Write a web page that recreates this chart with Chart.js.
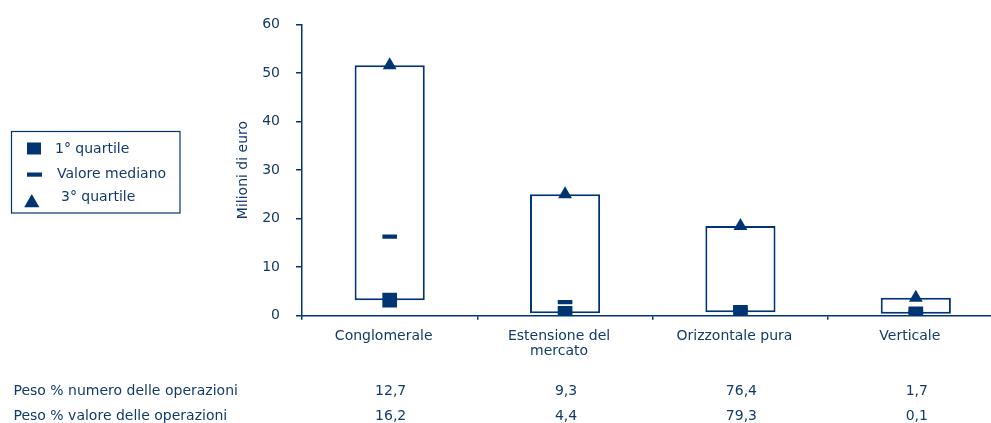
<!DOCTYPE html>
<html>
<head>
<meta charset="utf-8">
<script src="https://cdn.jsdelivr.net/npm/chart.js@4"></script>
<style>
  html, body { margin: 0; padding: 0; background: #ffffff; overflow: hidden; width: 991px; height: 423px; }
  #wrap { position: absolute; left: 0; top: 0; width: 1015px; height: 423px; }
</style>
</head>
<body>
<div id="wrap"><canvas id="c" width="1015" height="423"></canvas></div>
<script>
// ---- data ----
const categories = ['Conglomerale', ['Estensione del', 'mercato'], 'Orizzontale pura', 'Verticale'];
const q1Values = [3.2, 0.5, 0.7, 0.4];
const medianValues = [16.3, 2.8, 1.2, 0.8];
const q3Values = [51.6, 25.0, 18.5, 3.7];
const yTicks = [0, 10, 20, 30, 40, 50, 60];
const rowLabels = ['Peso % numero delle operazioni', 'Peso % valore delle operazioni'];
const pesoNumero = ['12,7', '9,3', '76,4', '1,7'];
const pesoValore = ['16,2', '4,4', '79,3', '0,1'];
const legendLabels = ['1° quartile', 'Valore mediano', '3° quartile'];
const yTitle = 'Milioni di euro';

// ---- style ----
const NAVY = '#003473';
const TEXT = '#133a6c';
const FONT = 'DejaVu Sans';

const boxRanges = q1Values.map((v, i) => [v, q3Values[i]]);

const legendPlugin = {
  id: 'boxLegend',
  afterDraw(chart) {
    const ctx = chart.ctx;
    ctx.save();
    ctx.strokeStyle = NAVY;
    ctx.lineWidth = 1.2;
    ctx.strokeRect(11.5, 131.5, 168.5, 81.5);
    ctx.fillStyle = NAVY;
    ctx.fillRect(27, 142.5, 14, 12);
    ctx.fillRect(27, 172.5, 15, 4.2);
    ctx.beginPath();
    ctx.moveTo(31.8, 194);
    ctx.lineTo(39.4, 207.3);
    ctx.lineTo(24.2, 207.3);
    ctx.closePath();
    ctx.fill();
    ctx.fillStyle = TEXT;
    ctx.font = '14px "' + FONT + '"';
    ctx.textAlign = 'left';
    ctx.textBaseline = 'alphabetic';
    ctx.fillText(legendLabels[0], 55, 153.3);
    ctx.fillText(legendLabels[1], 57, 178.3);
    ctx.fillText(legendLabels[2], 61, 201);
    ctx.restore();
  }
};

const tablePlugin = {
  id: 'bottomTable',
  afterDraw(chart) {
    const ctx = chart.ctx;
    const xs = chart.scales.x;
    ctx.save();
    ctx.fillStyle = TEXT;
    ctx.font = '14px "' + FONT + '"';
    ctx.textBaseline = 'alphabetic';
    const rows = [pesoNumero, pesoValore];
    const ys = [395.2, 420.4];
    rows.forEach((row, r) => {
      ctx.textAlign = 'left';
      ctx.fillText(rowLabels[r], 13.5, ys[r]);
      ctx.textAlign = 'center';
      row.forEach((txt, i) => {
        ctx.fillText(txt, xs.getPixelForValue(i) + 1, ys[r]);
      });
    });
    ctx.restore();
  }
};

new Chart(document.getElementById('c'), {
  type: 'bar',
  data: {
    labels: categories,
    datasets: [
      {
        type: 'bar',
        label: 'box',
        data: boxRanges,
        backgroundColor: '#ffffff',
        borderColor: NAVY,
        borderWidth: 2,
        borderSkipped: false,
        barPercentage: 0.4,
        categoryPercentage: 1.0,
        order: 10
      },
      {
        type: 'line',
        label: legendLabels[1],
        data: medianValues,
        showLine: false,
        pointStyle: 'line',
        pointRadius: 7.3,
        pointBorderWidth: 4.2,
        pointBorderColor: NAVY,
        pointBackgroundColor: NAVY,
        order: 3
      },
      {
        type: 'line',
        label: legendLabels[0],
        data: q1Values,
        showLine: false,
        pointStyle: 'rect',
        pointRadius: 10.4,
        pointBorderWidth: 0,
        pointBackgroundColor: NAVY,
        pointBorderColor: NAVY,
        order: 2
      },
      {
        type: 'line',
        label: legendLabels[2],
        data: q3Values,
        showLine: false,
        pointStyle: 'triangle',
        pointRadius: 8,
        pointBorderWidth: 0,
        pointBackgroundColor: NAVY,
        pointBorderColor: NAVY,
        order: 1
      }
    ]
  },
  options: {
    responsive: false,
    animation: false,
    devicePixelRatio: 1,
    layout: { padding: { left: 230, right: 6, top: 23.3, bottom: 0 } },
    plugins: {
      legend: { display: false },
      tooltip: { enabled: false }
    },
    scales: {
      x: {
        type: 'category',
        offset: true,
        grid: {
          offset: true,
          drawOnChartArea: false,
          drawTicks: true,
          tickLength: 4,
          color: NAVY,
          lineWidth: 1.5
        },
        border: { display: true, color: NAVY, width: 1.5 },
        ticks: {
          color: TEXT,
          font: { family: FONT, size: 14, lineHeight: 1.1 },
          padding: 8.6,
          maxRotation: 0,
          minRotation: 0,
          autoSkip: false,
          labelOffset: -6
        },
        afterFit(scale) { scale.height = 107.3; }
      },
      y: {
        type: 'linear',
        min: 0,
        max: 60,
        afterBuildTicks(scale) { scale.ticks = yTicks.map(v => ({ value: v })); },
        grid: {
          drawOnChartArea: false,
          drawTicks: true,
          tickLength: 6,
          color: NAVY,
          lineWidth: 1.5
        },
        border: { display: true, color: NAVY, width: 1.5 },
        ticks: {
          color: TEXT,
          font: { family: FONT, size: 14 },
          padding: 16
        },
        title: {
          display: true,
          text: yTitle,
          color: TEXT,
          font: { family: FONT, size: 14, lineHeight: 1.2 },
          padding: { top: 4.6, bottom: 0 }
        },
        afterFit(scale) { scale.width = 72; }
      }
    }
  },
  plugins: [legendPlugin, tablePlugin]
});
</script>
</body>
</html>
